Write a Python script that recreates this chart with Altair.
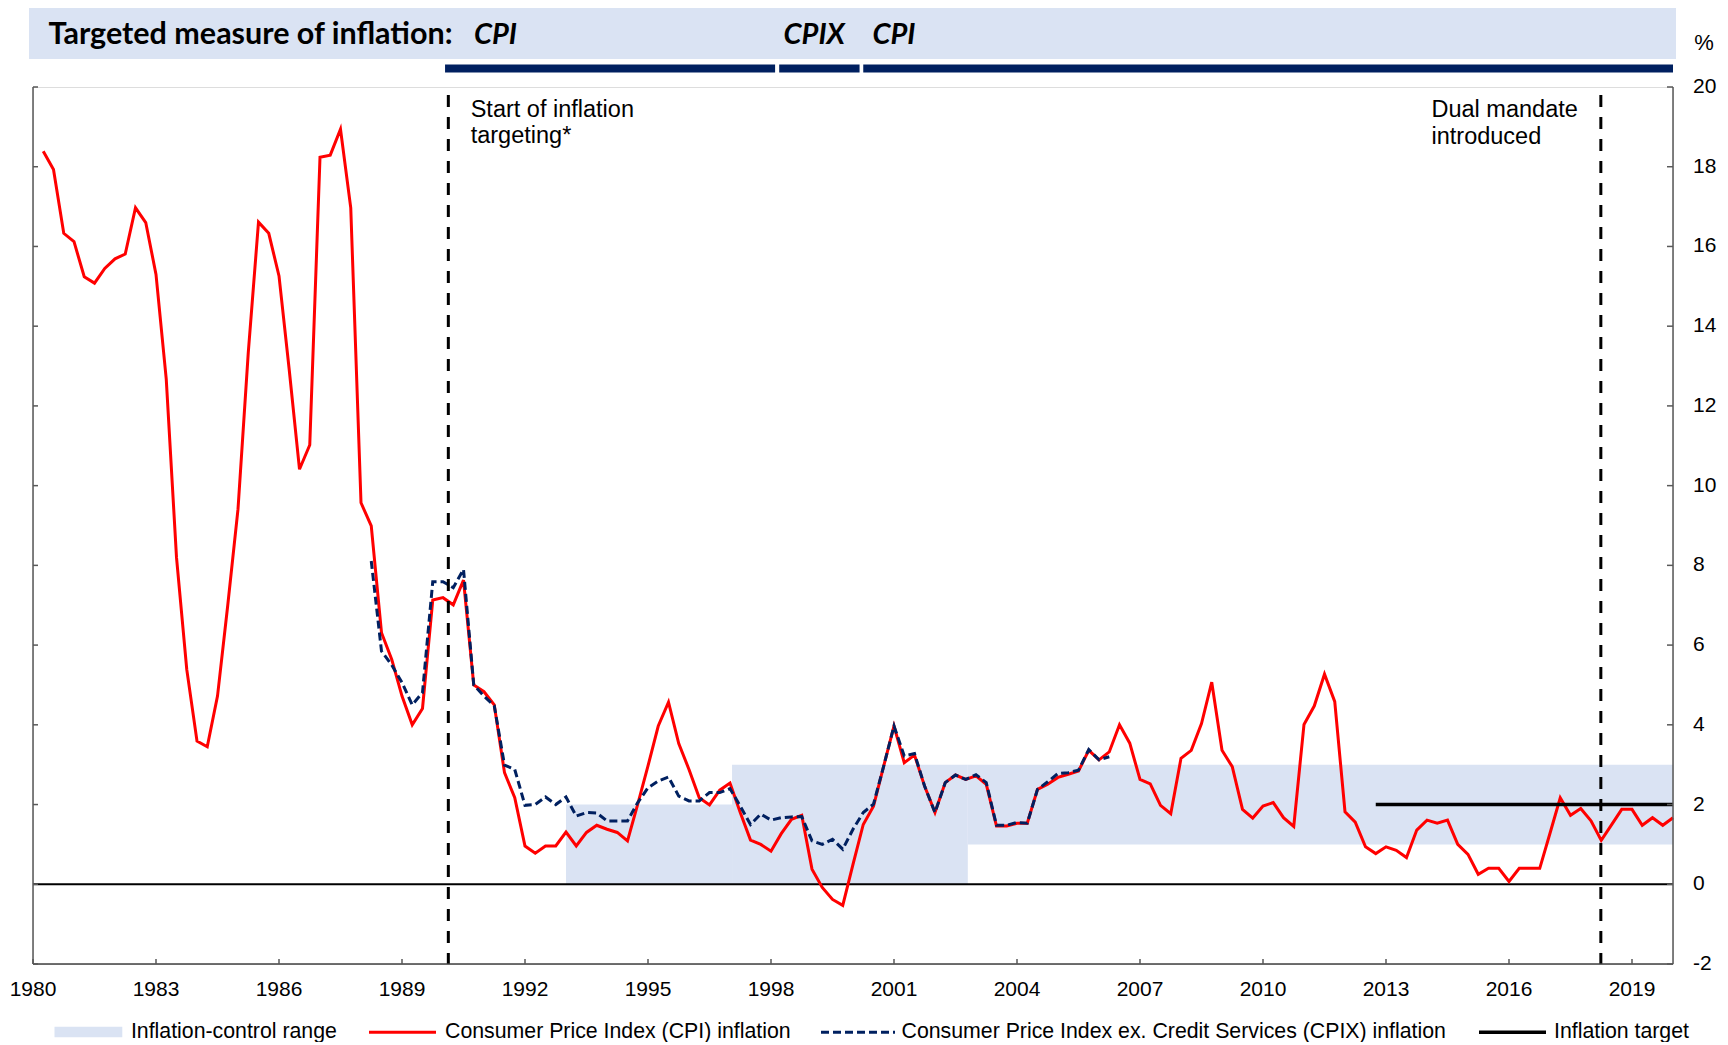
import altair as alt
import pandas as pd

# ---------------- data ----------------
# Quarterly CPI inflation (% y/y), 1980Q1 .. 2019Q4
cpi_values = [
    18.39, 17.93, 16.33, 16.12,   # 1980
    15.24, 15.08, 15.45, 15.69,   # 1981
    15.81, 16.97, 16.60, 15.30,   # 1982
    12.67, 8.20, 5.39, 3.59,      # 1983
    3.45, 4.72, 7.00, 9.41,       # 1984
    13.33, 16.61, 16.33, 15.26,   # 1985
    12.90, 10.41, 11.02, 18.24,   # 1986
    18.29, 18.94, 16.97, 9.57,    # 1987
    8.99, 6.31, 5.64, 4.72,       # 1988
    4.00, 4.41, 7.13, 7.19,       # 1989
    7.01, 7.63, 5.00, 4.83,       # 1990
    4.50, 2.80, 2.17, 0.96,       # 1991
    0.78, 0.96, 0.96, 1.31,       # 1992
    0.96, 1.30, 1.48, 1.38,       # 1993
    1.30, 1.09, 2.01, 2.97,       # 1994
    3.97, 4.57, 3.53, 2.88,       # 1995
    2.17, 1.99, 2.36, 2.54,       # 1996
    1.80, 1.11, 1.00, 0.83,       # 1997
    1.27, 1.63, 1.73, 0.38,       # 1998
    -0.08, -0.38, -0.53, 0.50,    # 1999
    1.50, 1.96, 2.97, 3.97,       # 2000
    3.05, 3.24, 2.45, 1.80,       # 2001
    2.55, 2.74, 2.63, 2.72,       # 2002
    2.51, 1.46, 1.46, 1.53,       # 2003
    1.53, 2.38, 2.51, 2.68,       # 2004
    2.76, 2.84, 3.36, 3.12,       # 2005
    3.32, 4.00, 3.54, 2.63,       # 2006
    2.52, 1.98, 1.77, 3.16,       # 2007
    3.36, 4.03, 5.07, 3.36,       # 2008
    2.95, 1.88, 1.66, 1.96,       # 2009
    2.05, 1.67, 1.45, 4.01,       # 2010
    4.47, 5.27, 4.58, 1.82,       # 2011
    1.56, 0.94, 0.77, 0.94,       # 2012
    0.85, 0.67, 1.36, 1.61,       # 2013
    1.53, 1.61, 1.00, 0.75,       # 2014
    0.25, 0.40, 0.40, 0.07,       # 2015
    0.40, 0.40, 0.40, 1.28,       # 2016
    2.17, 1.73, 1.90, 1.59,       # 2017
    1.10, 1.49, 1.88, 1.88,       # 2018
    1.48, 1.67, 1.48, 1.67,       # 2019
]
cpi_first_year = 1980

# Quarterly CPIX inflation (% y/y), 1988Q1 .. 2006Q1
cpix_values = [
    8.11, 5.85, 5.50, 5.06,       # 1988
    4.50, 4.81, 7.59, 7.59,       # 1989
    7.44, 7.90, 5.00, 4.72,       # 1990
    4.48, 2.99, 2.88, 1.98,       # 1991
    2.00, 2.19, 2.00, 2.19,       # 1992
    1.71, 1.80, 1.79, 1.59,       # 1993
    1.59, 1.59, 2.05, 2.42,       # 1994
    2.59, 2.69, 2.21, 2.09,       # 1995
    2.09, 2.30, 2.30, 2.40,       # 1996
    1.96, 1.50, 1.76, 1.61,       # 1997
    1.67, 1.69, 1.70, 1.09,       # 1998
    1.00, 1.13, 0.88, 1.38,       # 1999
    1.80, 2.01, 2.97, 3.97,       # 2000
    3.22, 3.28, 2.45, 1.80,       # 2001
    2.55, 2.74, 2.63, 2.75,       # 2002
    2.55, 1.48, 1.48, 1.55,       # 2003
    1.53, 2.38, 2.57, 2.78,       # 2004
    2.80, 2.86, 3.38, 3.12,       # 2005
    3.20,                         # 2006
]
cpix_first_year = 1988

# Inflation-control range
band_start = [1993.0, 1997.05, 2002.8]
band_end = [1997.05, 2002.8, 2020.0]
band_low = [0, 0, 1]
band_high = [2, 3, 3]

# Point inflation target
target_start = [2012.75]
target_end = [2020.0]
target_value = [2]

# Targeted measure periods
regime_start = [1990.05, 1998.2, 2000.25]
regime_end = [1998.1, 2000.16, 2020.0]
regime_label = ["CPI", "CPIX", "CPI"]

# Event lines
event_years = [1990.13, 2018.24]

x_tick_years = list(range(1980, 2020, 3))
x_tick_labels = [str(y) for y in x_tick_years]
y_tick_values = list(range(-2, 21, 2))
y_tick_labels = [str(v) for v in y_tick_values]

# ---------------- styling ----------------
W, H = 1640, 877
FONT = "Liberation Sans, Arial, sans-serif"
TFONT = "Lato, Calibri, sans-serif"
BLUE = "#DAE3F3"
NAVY = "#002060"
RED = "#FF0000"
AX = "#595959"

cpi_df = pd.DataFrame({
    "t": [cpi_first_year + 0.25 * (i + 1) for i in range(len(cpi_values))],
    "v": cpi_values,
})
cpix_df = pd.DataFrame({
    "t": [cpix_first_year + 0.25 * (i + 1) for i in range(len(cpix_values))],
    "v": cpix_values,
})
band_df = pd.DataFrame({"start": band_start, "end": band_end, "low": band_low, "high": band_high})
target_df = pd.DataFrame({"start": target_start, "end": target_end, "v": target_value})
regime_df = pd.DataFrame({"start": regime_start, "end": regime_end, "label": regime_label})
events_df = pd.DataFrame({"t": event_years, "top": [19.8, 19.8], "bottom": [-2, -2]})
xtick_df = pd.DataFrame({"t": x_tick_years, "lab": x_tick_labels})
ytick_df = pd.DataFrame({"v": y_tick_values, "lab": y_tick_labels})
one = pd.DataFrame({"_": [0]})

xs = alt.Scale(domain=[1980, 2020], nice=False, zero=False)
ys = alt.Scale(domain=[-2, 20], nice=False, zero=False)


def X(field):
    return alt.X(field, scale=xs, axis=None)


def Y(field):
    return alt.Y(field, scale=ys, axis=None)


def text(t, x, y, size, font=FONT, weight="normal", style="normal",
         align="left", baseline="alphabetic", line_height=None):
    kw = dict(text=t, font=font, fontSize=size, fontWeight=weight, fontStyle=style,
              align=align, baseline=baseline, color="black")
    if line_height:
        kw["lineHeight"] = line_height
    return alt.Chart(one).mark_text(**kw).encode(x=alt.value(x), y=alt.value(y))


banner = alt.Chart(one).mark_rect(color=BLUE).encode(
    x=alt.value(-4), x2=alt.value(1643), y=alt.value(-79), y2=alt.value(-28))

band = alt.Chart(band_df).mark_rect(color=BLUE).encode(
    x=X("start:Q"), x2="end:Q", y=Y("low:Q"), y2="high:Q")

zero = alt.Chart(pd.DataFrame({"v": [0]})).mark_rule(color="black", strokeWidth=2).encode(
    y=Y("v:Q"))

cpi_line = alt.Chart(cpi_df).mark_line(color=RED, strokeWidth=3).encode(
    x=X("t:Q"), y=Y("v:Q"))

cpix_line = alt.Chart(cpix_df).mark_line(color=NAVY, strokeWidth=3, strokeDash=[8, 4]).encode(
    x=X("t:Q"), y=Y("v:Q"))

target = alt.Chart(target_df).mark_rule(color="black", strokeWidth=3.5).encode(
    x=X("start:Q"), x2="end:Q", y=Y("v:Q"))

events = alt.Chart(events_df).mark_rule(color="black", strokeWidth=3, strokeDash=[12, 10]).encode(
    x=X("t:Q"), y=Y("top:Q"), y2="bottom:Q")

regimes = alt.Chart(regime_df).mark_rect(color=NAVY).encode(
    x=X("start:Q"), x2="end:Q", y=alt.value(-22.5), y2=alt.value(-14.5))

# axes: domain lines, inward ticks, tick labels
left_domain = alt.Chart(one).mark_rule(color=AX, strokeWidth=1.5).encode(
    x=alt.value(0), y=alt.value(0), y2=alt.value(H))
right_domain = alt.Chart(one).mark_rule(color=AX, strokeWidth=1.5).encode(
    x=alt.value(W), y=alt.value(0), y2=alt.value(H))
bottom_domain = alt.Chart(one).mark_rule(color="#404040", strokeWidth=1.5).encode(
    x=alt.value(0), x2=alt.value(W), y=alt.value(H))

left_ticks = alt.Chart(ytick_df).mark_rule(color=AX, strokeWidth=1.5).encode(
    y=Y("v:Q"), x=alt.value(0), x2=alt.value(5))
right_ticks = alt.Chart(ytick_df).mark_rule(color=AX, strokeWidth=1.5).encode(
    y=Y("v:Q"), x=alt.value(W - 6), x2=alt.value(W))
x_ticks = alt.Chart(xtick_df).mark_rule(color=AX, strokeWidth=1.5).encode(
    x=X("t:Q"), y=alt.value(H - 5), y2=alt.value(H))

x_labels = alt.Chart(xtick_df).mark_text(
    font=FONT, fontSize=21, color="black", align="center", baseline="middle").encode(
    x=X("t:Q"), y=alt.value(H + 26), text="lab:N")
y_labels = alt.Chart(ytick_df).mark_text(
    font=FONT, fontSize=21, color="black", align="left", baseline="middle").encode(
    y=Y("v:Q"), x=alt.value(W + 20), text="lab:N")

title_txt = text("Targeted measure of inflation:", 15.5, -43, 30.5, font=TFONT, weight="bold")
lab1 = text(regime_label[0], 441, -43, 29, font=TFONT, weight="bold", style="italic")
lab2 = text(regime_label[1], 750.6, -43, 29, font=TFONT, weight="bold", style="italic")
lab3 = text(regime_label[2], 839.5, -43, 29, font=TFONT, weight="bold", style="italic")
pct = text("%", 1671, -37, 22, align="center")

ann1 = text(["Start of inflation", "targeting*"], 437.7, 29.7, 23.5, line_height=26.5)
ann2 = text(["Dual mandate", "introduced"], 1398.5, 30.2, 23.5, line_height=26.5)

# legend
LY = 945.3
LFS = 21.3
leg_rect = alt.Chart(one).mark_rect(color=BLUE).encode(
    x=alt.value(21.5), x2=alt.value(89.3), y=alt.value(939.7), y2=alt.value(950.3))
leg_red = alt.Chart(one).mark_rule(color=RED, strokeWidth=3).encode(
    x=alt.value(336), x2=alt.value(403), y=alt.value(LY))
leg_navy = alt.Chart(one).mark_rule(color=NAVY, strokeWidth=3, strokeDash=[8, 4]).encode(
    x=alt.value(788), x2=alt.value(862), y=alt.value(LY))
leg_black = alt.Chart(one).mark_rule(color="black", strokeWidth=3.5).encode(
    x=alt.value(1446), x2=alt.value(1513), y=alt.value(LY))
leg_t1 = text("Inflation-control range", 97.9, LY, LFS, baseline="middle")
leg_t2 = text("Consumer Price Index (CPI) inflation", 412, LY, LFS, baseline="middle")
leg_t3 = text("Consumer Price Index ex. Credit Services (CPIX) inflation", 868.5, LY, LFS, baseline="middle")
leg_t4 = text("Inflation target", 1521, LY, LFS, baseline="middle")

chart = alt.layer(
    banner, band, zero, cpi_line, cpix_line, target, events, regimes,
    left_domain, right_domain, bottom_domain, left_ticks, right_ticks, x_ticks,
    x_labels, y_labels,
    title_txt, lab1, lab2, lab3, pct, ann1, ann2,
    leg_rect, leg_red, leg_navy, leg_black, leg_t1, leg_t2, leg_t3, leg_t4,
).properties(
    width=W, height=H,
    padding={"left": 25, "top": 79, "right": 47, "bottom": 78},
    autosize=alt.AutoSizeParams(type="none"),
).configure_view(stroke=None).configure(background="white")

chart.save("out.html", embed_options={"renderer": "svg", "actions": False})
